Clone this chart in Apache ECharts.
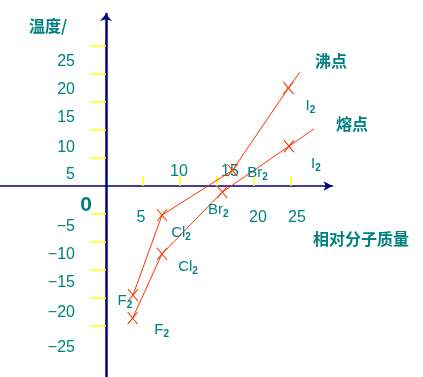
<!DOCTYPE html>
<html>
<head>
<meta charset="utf-8">
<script src="https://cdn.jsdelivr.net/npm/echarts@6/dist/echarts.min.js"></script>
<style>
	html, body { margin: 0; padding: 0; background: #fff; }
	#tuxing { width: 423px; height: 377px; }
</style>
</head>
<body>
<div id="tuxing"></div>
<script>
// 数据
var massTicks = [5, 10, 15, 20, 25];
var tempTicks = [-25, -20, -15, -10, -5, 5, 10, 15, 20, 25];
var tempLabels = [-25, -20, -15, -10, -5, 0, 5, 10, 15, 20, 25];
var substances = ['F', 'Cl', 'Br', 'I'];
var boilMass = [3.65, 7.57, 17.1, 24.65];
var boilTemp = [-19.5, -5.2, 2.8, 17.5];
var meltMass = [3.6, 7.57, 15.72, 24.73];
var meltTemp = [-23.6, -12.1, -1.1, 7.1];
var boilEnd = [26.2, 20.3];
var meltStart = [3.0, -24.5];
var meltEnd = [28.1, 10.2];

var teal = '#008080';
var red = '#ff3300';
var font = '"Liberation Sans", Arial, sans-serif';
var cjk = '"Noto Sans CJK SC", sans-serif';

// 标签偏移 (像素)
var boilOffset = [[-8, 6], [19, 18], [25, 3], [22, 18]];
var meltOffset = [[29, 12], [26, 13], [-4, 18], [27, 18]];
// y 轴标签相对刻度的下移量
var yLabelDrop = {'-25': 22, '-20': 15, '-15': 13, '-10': 13, '-5': 13, '5': 17, '10': 18, '15': 16, '20': 16, '25': 16};

var cross = 'path://M0,0L10,12M10,0L0,12';

function buildLine(mass, temp, offsets, start, end) {
	var data = [];
	if (start) data.push({value: start, symbol: 'none', label: {show: false}});
	for (var i = 0; i < mass.length; i++) {
		data.push({
			value: [mass[i], temp[i]],
			name: substances[i],
			label: {offset: offsets[i]}
		});
	}
	if (end) data.push({value: end, symbol: 'none', label: {show: false}});
	return data;
}

var yRich = {
	z: {fontSize: 21, fontWeight: 'bold', lineHeight: 38, color: teal, fontFamily: font}
};
for (var k in yLabelDrop) {
	yRich['d' + yLabelDrop[k]] = {fontSize: 16, lineHeight: yLabelDrop[k] * 2, padding: [0, 17, 0, 0], color: teal, fontFamily: font};
}

var xRich = {
	k5: {lineHeight: 123, padding: [0, 4, 0, 0]},
	k10: {lineHeight: 31, padding: [0, 2, 0, 0]},
	k15: {lineHeight: 31, padding: [0, 0, 0, 26]},
	k20: {lineHeight: 123, padding: [0, 0, 0, 8]},
	k25: {lineHeight: 123, padding: [0, 0, 0, 12]}
};
for (var r in xRich) {
	xRich[r].fontSize = 16;
	xRich[r].color = teal;
	xRich[r].fontFamily = font;
}

var labelRich = {
	n: {fontSize: 15, lineHeight: 18, color: teal, fontFamily: font},
	s: {fontSize: 10, lineHeight: 11, verticalAlign: 'bottom', fontWeight: 'bold', color: teal, fontFamily: font}
};

var seriesLabel = {
	show: true,
	position: 'inside',
	formatter: function(p) {
		return '{n|' + p.name + '}{s|2}';
	},
	rich: labelRich
};

var myChart = echarts.init(document.getElementById('tuxing'));

var option = {
	backgroundColor: '#fff',
	animation: false,
	grid: {left: 0, right: 90.5, top: 14, bottom: 0, containLabel: false, outerBoundsMode: 'none'},
	xAxis: {
		type: 'value',
		min: -14.32,
		max: 30.61,
		splitLine: {show: false},
		axisLine: {
			onZero: true,
			symbol: ['none', 'arrow'],
			symbolSize: [7, 9],
			lineStyle: {color: '#000080', width: 1.5}
		},
		axisTick: {
			show: true,
			inside: true,
			length: 10,
			customValues: massTicks,
			lineStyle: {color: '#ffff00', width: 1.5}
		},
		axisLabel: {
			customValues: massTicks,
			margin: -220.5,
			verticalAlign: 'top',
			formatter: function(v) {
				return '{k' + v + '|' + v + '}';
			},
			rich: xRich
		}
	},
	yAxis: {
		type: 'value',
		min: -34.1,
		max: 30.71,
		splitLine: {show: false},
		axisLine: {
			onZero: true,
			symbol: ['none', 'arrow'],
			symbolSize: [9, 7],
			lineStyle: {color: '#000080', width: 2.5}
		},
		axisTick: {
			show: true,
			length: 15,
			customValues: tempTicks,
			lineStyle: {color: '#ffff00', width: 1.5}
		},
		axisLabel: {
			customValues: tempLabels,
			margin: -92,
			verticalAlign: 'top',
			formatter: function(v) {
				if (v === 0) return '{z|0}';
				var t = v < 0 ? '\u2212' + (-v) : '' + v;
				return '{d' + yLabelDrop[v] + '|' + t + '}';
			},
			rich: yRich
		}
	},
	series: [{
		name: '沸点',
		type: 'line',
		data: buildLine(boilMass, boilTemp, boilOffset, null, boilEnd),
		symbol: cross,
		symbolSize: [10, 12],
		showAllSymbol: true,
		lineStyle: {color: red, width: 1},
		itemStyle: {color: 'none', borderColor: red, borderWidth: 1},
		label: seriesLabel,
		z: 5
	}, {
		name: '熔点',
		type: 'line',
		data: buildLine(meltMass, meltTemp, meltOffset, meltStart, meltEnd),
		symbol: cross,
		symbolSize: [10, 12],
		showAllSymbol: true,
		lineStyle: {color: red, width: 1},
		itemStyle: {color: 'none', borderColor: red, borderWidth: 1},
		label: seriesLabel,
		z: 5
	}],
	graphic: [
		{type: 'text', x: 48, y: 26, style: {text: '温度/', fill: teal, font: 'bold 16px ' + cjk, align: 'center', verticalAlign: 'middle'}},
		{type: 'text', x: 331, y: 61, style: {text: '沸点', fill: teal, font: 'bold 16px ' + cjk, align: 'center', verticalAlign: 'middle'}},
		{type: 'text', x: 352, y: 124, style: {text: '熔点', fill: teal, font: 'bold 16px ' + cjk, align: 'center', verticalAlign: 'middle'}},
		{type: 'text', x: 361, y: 239, style: {text: '相对分子质量', fill: teal, font: 'bold 16px ' + cjk, align: 'center', verticalAlign: 'middle'}}
	]
};

myChart.setOption(option);
</script>
</body>
</html>
